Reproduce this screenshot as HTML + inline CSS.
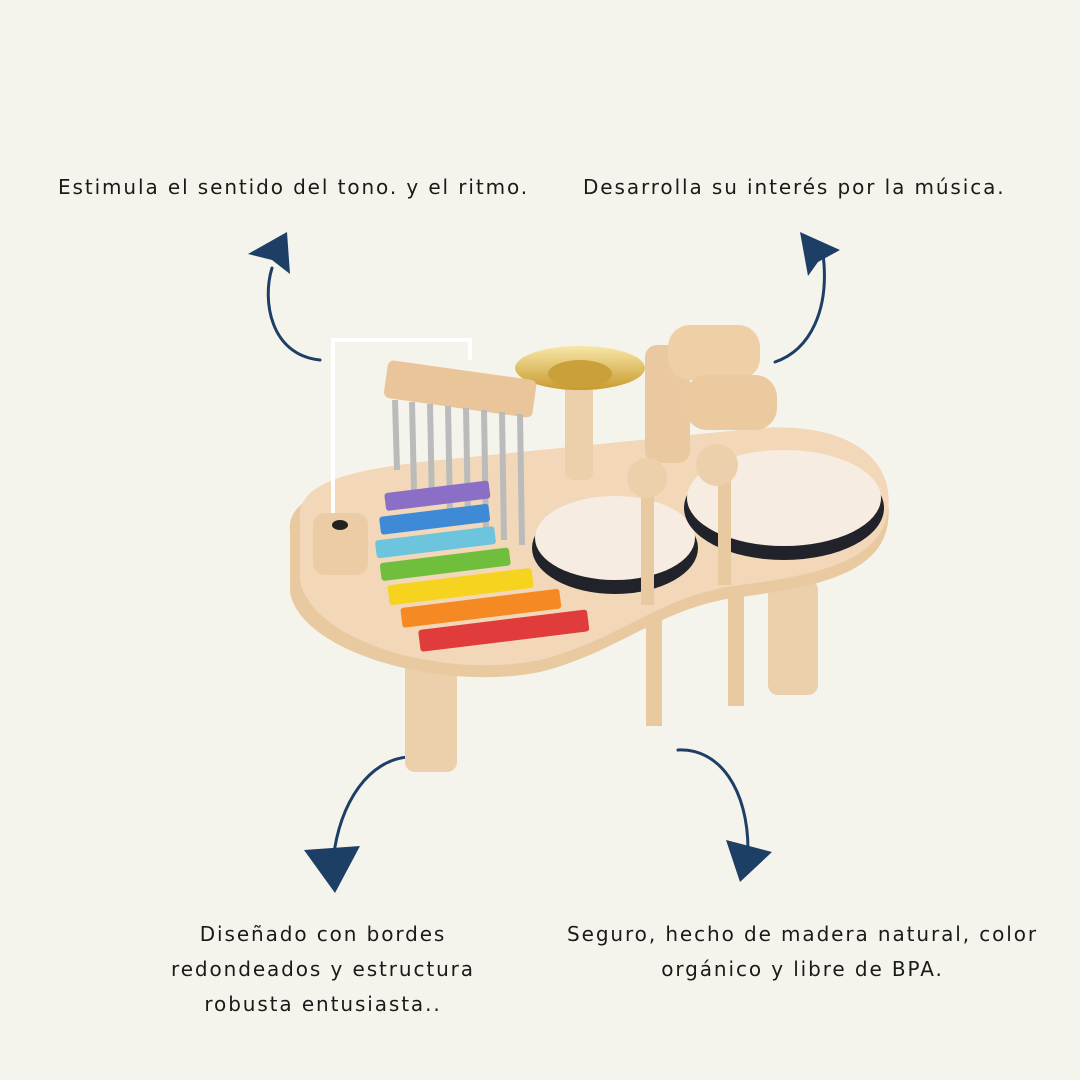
<!DOCTYPE html>
<html><head><meta charset="utf-8"><style>
html,body{margin:0;padding:0;background:#f5f4ec;}
.w{position:relative;width:1080px;height:1080px;overflow:hidden;font-family:"DejaVu Sans","Liberation Sans",sans-serif;color:#1a1a1a;font-size:20px;letter-spacing:1.9px}
.t{position:absolute;text-align:center;line-height:35px;white-space:nowrap}
svg{position:absolute;left:0;top:0}
</style></head><body><div class="w">
<svg width="1080" height="1080" viewBox="0 0 1080 1080">
<defs>
<linearGradient id="gold" x1="0" y1="0" x2="0" y2="1"><stop offset="0" stop-color="#f7e7a8"/><stop offset="1" stop-color="#c99a2e"/></linearGradient>
</defs>
<g fill="none" stroke="#1d3f66" stroke-width="3" stroke-linecap="round">
<path d="M320 360 C270 355 262 300 272 268"/>
<path d="M823 254 C830 310 810 350 775 362"/>
<path d="M408 757 C370 760 340 800 333 860"/>
<path d="M678 750 C720 748 748 790 748 850"/>
</g>
<g fill="#1d3f66">
<polygon points="287,232 248,254 272,260 290,274"/>
<polygon points="800,232 840,250 818,262 808,276"/>
<polygon points="304,850 360,846 335,893"/>
<polygon points="726,840 772,852 740,882"/>
</g>
<!-- legs -->
<rect x="405" y="640" width="52" height="132" rx="10" fill="#ecd0ac"/>
<rect x="768" y="580" width="50" height="115" rx="10" fill="#ecd0ac"/>
<rect x="646" y="600" width="16" height="126" fill="#e8c9a0"/>
<rect x="728" y="580" width="16" height="126" fill="#e8c9a0"/>
<!-- table edge + top -->
<path d="M290 532 C285 492 350 482 420 474 L760 440 C850 434 895 472 888 522 C882 572 820 587 740 597 C660 607 620 652 540 672 C440 692 300 652 290 592 Z" fill="#e9c9a0"/>
<path d="M300 520 C295 480 360 470 420 462 L760 428 C850 422 895 460 888 510 C882 560 820 575 740 585 C660 595 620 640 540 660 C440 680 310 640 300 580 Z" fill="#f2d8b8"/>
<!-- cymbal -->
<rect x="565" y="380" width="28" height="100" rx="8" fill="#ecd0ac"/>
<ellipse cx="580" cy="368" rx="65" ry="22" fill="url(#gold)"/>
<ellipse cx="580" cy="374" rx="32" ry="14" fill="#c9a03a"/>
<!-- guiro -->
<rect x="645" y="345" width="45" height="118" rx="12" fill="#ebc9a0"/>
<rect x="668" y="325" width="92" height="55" rx="22" fill="#efcfa5"/>
<rect x="685" y="375" width="92" height="55" rx="22" fill="#eccaa0"/>
<!-- chimes -->
<path d="M333 520 V340 H470 V360" fill="none" stroke="#fff" stroke-width="4"/>
<rect x="385" y="370" width="150" height="38" rx="6" fill="#ebc59a" transform="rotate(8 460 390)"/>
<g stroke="#bbb" stroke-width="6">
<line x1="395" y1="400" x2="397" y2="470"/><line x1="412" y1="402" x2="414" y2="490"/><line x1="430" y1="404" x2="432" y2="505"/><line x1="448" y1="406" x2="450" y2="515"/><line x1="466" y1="408" x2="468" y2="520"/><line x1="484" y1="410" x2="486" y2="530"/><line x1="502" y1="412" x2="504" y2="540"/><line x1="520" y1="414" x2="522" y2="545"/>
</g>
<rect x="313" y="513" width="55" height="62" rx="12" fill="#ebcca4"/>
<ellipse cx="340" cy="525" rx="8" ry="5" fill="#222"/>
<!-- xylophone -->
<g transform="rotate(-7 480 560)">
<rect x="393" y="482" width="105" height="18" rx="3" fill="#8b6fc7"/>
<rect x="385" y="505" width="110" height="18" rx="3" fill="#3f8ad6"/>
<rect x="378" y="528" width="120" height="18" rx="3" fill="#6cc4dd"/>
<rect x="380" y="551" width="130" height="18" rx="3" fill="#6fbe3c"/>
<rect x="385" y="574" width="145" height="20" rx="3" fill="#f5d31e"/>
<rect x="395" y="598" width="160" height="20" rx="3" fill="#f58a25"/>
<rect x="410" y="622" width="170" height="22" rx="3" fill="#e13c3c"/>
</g>
<!-- drums -->
<ellipse cx="615" cy="548" rx="83" ry="46" fill="#22222a"/>
<ellipse cx="615" cy="538" rx="80" ry="42" fill="#f7ece1"/>
<ellipse cx="784" cy="508" rx="100" ry="52" fill="#22222a"/>
<ellipse cx="784" cy="498" rx="97" ry="48" fill="#f7ece1"/>
<!-- mallets -->
<rect x="641" y="480" width="13" height="125" fill="#e8c9a0"/>
<circle cx="647" cy="478" r="20" fill="#ecd0ac"/>
<rect x="718" y="460" width="13" height="125" fill="#e8c9a0"/>
<circle cx="717" cy="465" r="21" fill="#ecd0ac"/>
</svg>
<div class="t" style="left:58px;top:170px">Estimula el sentido del tono. y el ritmo.</div>
<div class="t" style="left:583px;top:170px">Desarrolla su interés por la música.</div>
<div class="t" style="left:123px;top:917px;width:400px">Diseñado con bordes<br>redondeados y estructura<br>robusta entusiasta..</div>
<div class="t" style="left:545px;top:917px;width:515px">Seguro, hecho de madera natural, color<br>orgánico y libre de BPA.</div>
</div></body></html>
